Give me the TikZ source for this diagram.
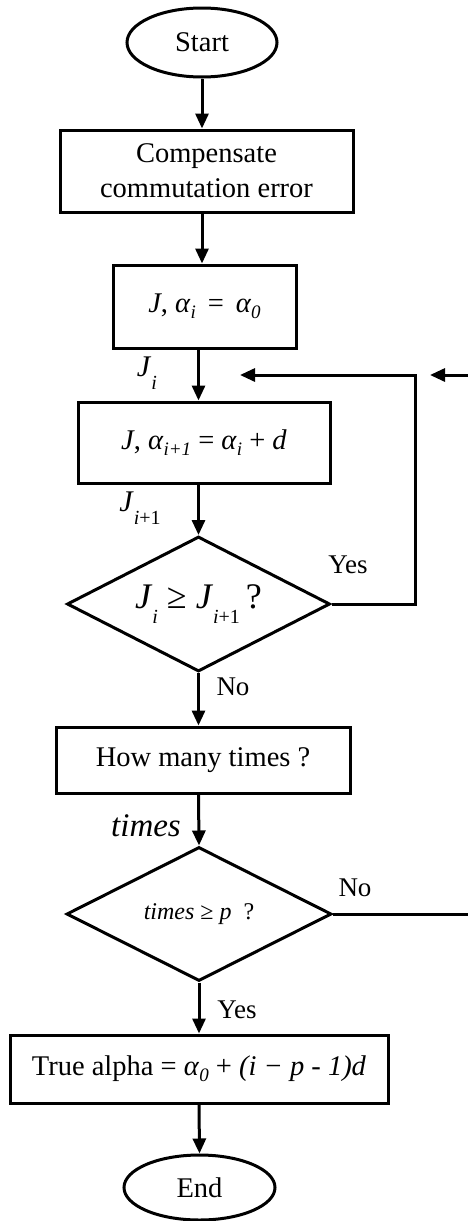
\documentclass[tikz,border=0pt]{standalone}
\usepackage{fontspec}
\setmainfont{Liberation Serif}
\usetikzlibrary{shapes.geometric,arrows.meta}
\newcommand{\mysub}[1]{\raisebox{-0.45ex}{\fontsize{19}{19}\selectfont #1}}
\newcommand{\mylow}[1]{\raisebox{-0.9ex}{\fontsize{20}{20}\selectfont #1}}
\begin{document}
\begin{tikzpicture}[x=1pt,y=-1pt,line width=3pt,
  every node/.style={font=\fontsize{28.5}{33}\selectfont, inner sep=0pt},
  proc/.style={draw, rectangle},
  term/.style={draw, ellipse},
  dec/.style={draw, diamond, aspect=1.95},
  lbl/.style={font=\fontsize{27}{30}\selectfont},
  arr/.style={-{Triangle[length=15pt,width=13pt]}}]
\useasboundingbox (0,0) rectangle (467,1221);

\node[term, minimum width=150pt, minimum height=69pt] (start) at (202,42.5) {Start};
\node[proc, minimum width=293pt, minimum height=82pt, align=center,
      font=\fontsize{28.5}{35}\selectfont] (comp) at (206.5,171) {Compensate\\commutation error};
\node[proc, minimum width=183pt, minimum height=83pt] (init) at (204.5,306.5)
  {\textit{J}, \textit{α}\mysub{\textit{i}} \,=\, \textit{α}\mysub{\textit{0}}};
\node[proc, minimum width=252pt, minimum height=81pt] (step) at (204,442.5)
  {\textit{J}, \textit{α}\mysub{\textit{i+1}} = \textit{α}\mysub{\textit{i}} + \textit{d}};
\node[dec, minimum width=263pt, minimum height=135pt] (dec1) at (198.5,604)
  {\fontsize{36}{40}\selectfont\textit{J}\mylow{\textit{i}} ≥ \textit{J}\mylow{\textit{i}+1}\,?};
\node[proc, minimum width=294pt, minimum height=66pt] (count) at (203,760) {How many times ?};
\node[dec, minimum width=265pt, minimum height=134pt] (dec2) at (199,914)
  {\fontsize{24}{28}\selectfont\textit{times} ≥ \textit{p} \ ?};
\node[proc, minimum width=378pt, minimum height=68pt] (res) at (199,1069)
  {True alpha = \textit{α}\mysub{\textit{0}} + \textit{(i − p - 1)d}};
\node[term, minimum width=151pt, minimum height=65pt] (stop) at (199.5,1187.5) {End};

% labels
\node (lji) at (147,373) {\fontsize{30}{32}\selectfont\textit{J}\mylow{\textit{i}}};
\node (ljn) at (140,508) {\fontsize{30}{32}\selectfont\textit{J}\mylow{\textit{i}+1}};
\node[lbl] (yes1) at (348,565) {Yes};
\node[lbl] (no1) at (233,687) {No};
\node (ltimes) at (146,826) {\fontsize{33}{36}\selectfont\textit{times}};
\node[lbl] (no2) at (355,888) {No};
\node[lbl] (yes2) at (237,1010) {Yes};

% coordinates
\coordinate (loopc) at (415,375);
\coordinate (looptip) at (240,375);
\coordinate (redge) at (470,375);
\coordinate (rtip) at (430,375);

% connectors
\draw[arr] (start.south) -- (start |- comp.north);
\draw[arr] (start |- comp.south) -- (start |- init.north);
\draw[arr] (dec1 |- init.south) -- (dec1 |- step.north);
\draw[arr] (dec1 |- step.south) -- (dec1.north);
\draw[arr] (dec1.south) -- (dec1 |- count.north);
\draw[arr] (dec1 |- count.south) -- (dec2.north);
\draw[arr] (dec2.south) -- (dec2 |- res.north);
\draw[arr] (dec2 |- res.south) -- (stop.north);
\draw[arr] (dec1.east) -- (dec1.east -| loopc) -- (loopc) -- (looptip);
\draw[arr] (redge) -- (rtip);
\draw (dec2.east) -- (dec2.east -| redge);
\end{tikzpicture}
\end{document}
